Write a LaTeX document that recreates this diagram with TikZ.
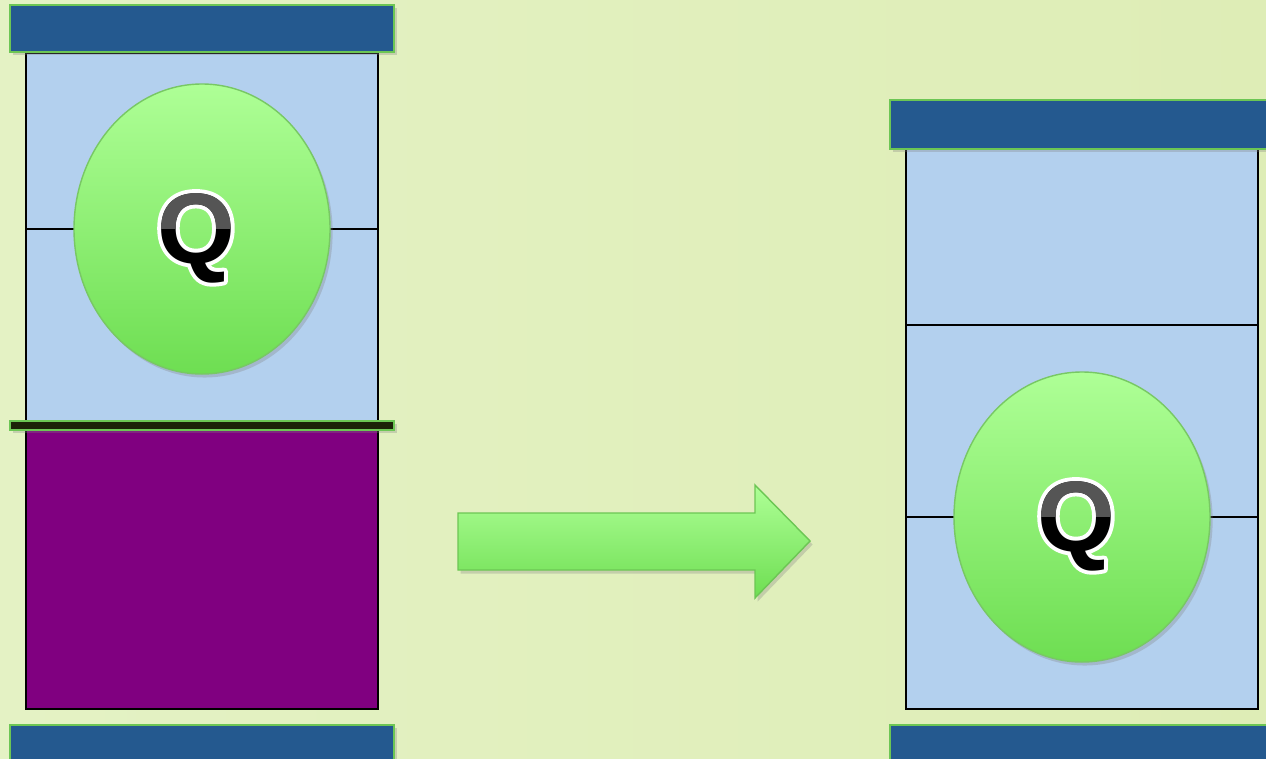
\documentclass[tikz,border=0pt]{standalone}
\usepackage{fontspec}
\setmainfont{Liberation Sans}
\usetikzlibrary{shadows}
\definecolor{bgA}{RGB}{228,242,196}
\definecolor{bgB}{RGB}{222,237,182}
\definecolor{barblue}{RGB}{36,89,143}
\definecolor{bargreen}{RGB}{108,198,84}
\definecolor{boxblue}{RGB}{179,208,238}
\definecolor{purp}{RGB}{128,0,128}
\definecolor{divdark}{RGB}{28,34,8}
\definecolor{gtop}{RGB}{174,255,150}
\definecolor{gbot}{RGB}{110,222,82}
\definecolor{gline}{RGB}{120,200,100}
\definecolor{qgray}{RGB}{85,85,85}
\newcommand\outlinedtext[1]{\special{pdf:literal direct q 1 Tr 4.5 w 1 J 1 j 1 1 1 RG}#1\special{pdf:literal direct Q}}
\tikzset{
  barbox/.style={fill=barblue, draw=bargreen, line width=1.2pt,
    drop shadow={opacity=0.3, shadow xshift=1.5pt, shadow yshift=-1.5pt}},
  divbox/.style={fill=divdark, draw=bargreen, line width=1.2pt,
    drop shadow={opacity=0.3, shadow xshift=1.5pt, shadow yshift=-1.5pt}},
  cell/.style={fill=boxblue, draw=black, line width=1.1pt},
  purpcell/.style={fill=purp, draw=black, line width=1.1pt},
  midline/.style={draw=black, line width=0.9pt},
  ball/.style={top color=gtop, bottom color=gbot, draw=gline, line width=0.8pt,
    drop shadow={opacity=0.3, shadow xshift=1.5pt, shadow yshift=-2pt}},
  bigarrow/.style={top color=gtop, bottom color=gbot, draw=bargreen, line width=0.8pt,
    drop shadow={opacity=0.3, shadow xshift=1.5pt, shadow yshift=-2pt}},
  qfont/.style={font=\fontsize{57}{60}\selectfont\bfseries, inner sep=0pt, anchor=base}
}
\newcommand\qmark[3]{%
  \node[qfont, text=white] (#1o) at (#2,#3) {\outlinedtext{Q}};
  \node[qfont, text=black] (#1) at (#2,#3) {Q};
  \begin{scope}
    \clip (#2-45,#3-90) rectangle (#2+45,#3-34);
    \fill[qgray, blend mode=lighten] (#2-45,#3-90) rectangle (#2+45,#3-34);
  \end{scope}
}
\begin{document}
\begin{tikzpicture}[x=0.02cm,y=-0.02cm]
\useasboundingbox (0,0) rectangle (1266,758);
\fill[left color=bgA, right color=bgB] (0,0) rectangle (1266,758);

% left column
\draw[cell] (26,53) rectangle (378,421);
\draw[midline] (26,229) -- (378,229);
\draw[purpcell] (26,430) rectangle (378,709);
\draw[ball] (202,229) ellipse [x radius=128, y radius=145];
\qmark{qa}{196}{263}
\draw[barbox] (10,5) rectangle (394,52);
\draw[divbox] (10,421) rectangle (394,430);
\draw[barbox] (10,725) rectangle (394,762);

% arrow
\draw[bigarrow] (458,513) -- (755,513) -- (755,485) -- (810,541) -- (755,598) -- (755,570) -- (458,570) -- cycle;

% right column
\draw[cell] (906,149) rectangle (1258,709);
\draw[midline] (906,325) -- (1258,325);
\draw[midline] (906,517) -- (1258,517);
\draw[ball] (1082,517) ellipse [x radius=128, y radius=145];
\qmark{qb}{1076}{551}
\draw[barbox] (890,100) rectangle (1270,149);
\draw[barbox] (890,725) rectangle (1270,762);
\end{tikzpicture}
\end{document}
